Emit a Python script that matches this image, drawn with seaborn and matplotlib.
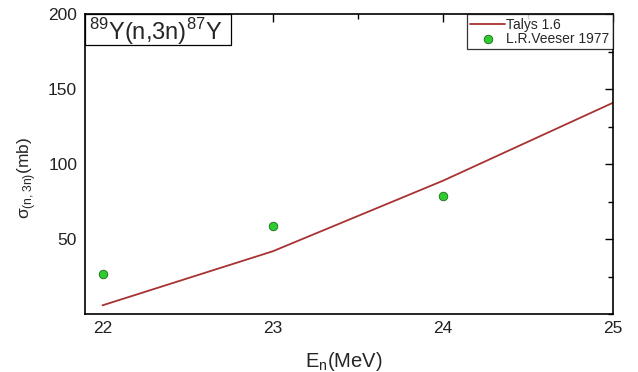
import matplotlib
matplotlib.use("Agg")
import matplotlib.pyplot as plt
from matplotlib.ticker import MultipleLocator
from matplotlib.patches import Rectangle
import seaborn as sns
import pandas as pd

# TALYS 1.6 calculation
talys_energy = [22, 23, 24, 25]
talys_sigma = [6, 42, 89, 141]

# L.R. Veeser 1977 measurements
exp_energy = [22, 23, 24]
exp_sigma = [27, 59, 79]

talys_df = pd.DataFrame({"E": talys_energy, "sigma": talys_sigma})
exp_df = pd.DataFrame({"E": exp_energy, "sigma": exp_sigma})

sns.set_style("white")
plt.rcParams["font.family"] = ["Liberation Sans", "DejaVu Sans"]

fig = plt.figure(figsize=(6.38, 3.72), dpi=100)
ax = fig.add_axes([0.134, 0.155, 0.827, 0.807])

sns.lineplot(data=talys_df, x="E", y="sigma", ax=ax, color="#a83232",
             linewidth=1.3, label="Talys 1.6")
sns.scatterplot(data=exp_df, x="E", y="sigma", ax=ax, color="#2ecc2e",
                edgecolor="#1a6b1a", linewidth=0.6, s=38, zorder=3,
                label="L.R.Veeser 1977")

ax.set_xlim(21.9, 25.0)
ax.set_ylim(0, 200)
ax.xaxis.set_major_locator(MultipleLocator(1))
ax.xaxis.set_minor_locator(MultipleLocator(0.5))
ax.yaxis.set_major_locator(MultipleLocator(50))
ax.yaxis.set_minor_locator(MultipleLocator(25))
ax.set_yticks([50, 100, 150, 200])
ax.tick_params(which="both", direction="in", top=True, right=True,
               labelsize=12.5, color="black", labelcolor="#222222")
ax.tick_params(axis="x", which="major", pad=5)
ax.tick_params(axis="y", which="major", pad=6)
ax.tick_params(which="major", length=6, width=1)
ax.tick_params(which="minor", length=3.5, width=1)
for sp in ax.spines.values():
    sp.set_color("black")
    sp.set_linewidth(1.2)

ax.set_xlabel("E$_\\mathregular{n}$(MeV)", fontsize=14.5, va="top")
ax.xaxis.set_label_coords(0.49, -0.12)
ax.set_ylabel("σ$_\\mathregular{(n,3n)}$(mb)", fontsize=12.5)
ax.yaxis.set_label_coords(-0.09, 0.455)

leg = ax.legend(loc="upper right", fontsize=10, frameon=True, fancybox=False,
                borderaxespad=0, handlelength=2.5, handletextpad=0.1,
                borderpad=0.25, labelspacing=0.0)
leg.get_frame().set_edgecolor("black")
leg.get_frame().set_linewidth(0.9)

# reaction label in a boxed corner panel
ax.add_patch(Rectangle((0.0, 0.897), 0.275, 0.103, transform=ax.transAxes,
                       facecolor="white", edgecolor="black", linewidth=0.9,
                       zorder=5, clip_on=False))
ax.text(0.006, 0.915, "$^\\mathregular{89}$Y(n,3n)$^\\mathregular{87}$Y",
        transform=ax.transAxes, ha="left", va="baseline", fontsize=17,
        zorder=6)

fig.savefig("out.png", dpi=100)
